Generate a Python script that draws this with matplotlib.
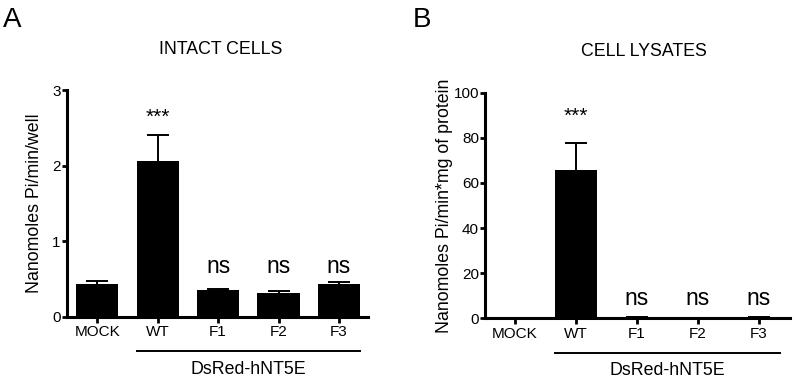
import matplotlib
matplotlib.use("Agg")
import matplotlib.pyplot as plt
import matplotlib.transforms as mtransforms

plt.rcParams["font.family"] = ["Liberation Sans", "DejaVu Sans"]

categories = ["MOCK", "WT", "F1", "F2", "F3"]
intact_mean = [0.43, 2.06, 0.35, 0.32, 0.43]
intact_sem = [0.05, 0.34, 0.02, 0.02, 0.03]
lysate_mean = [0.0, 65.7, 0.4, 0.2, 0.4]
lysate_sem = [0.0, 12.0, 0.1, 0.1, 0.1]
signif = ["", "***", "ns", "ns", "ns"]
group_label = "DsRed-hNT5E"

fig = plt.figure(figsize=(7.94, 3.8), dpi=100)
axA = fig.add_axes([0.0844, 0.166, 0.379, 0.597])
axB = fig.add_axes([0.611, 0.1624, 0.384, 0.594])


def draw_panel(ax, means, sems, ymax, yticks, ylabel, title, letter, letter_x,
               star_y, ns_y, xlim, title_dx, labelpad):
    x = list(range(len(categories)))
    ax.bar(x, means, width=0.7, color="black", zorder=2)
    # upper half error bars only, like prism does
    eb = ax.errorbar(x, means, yerr=[[0] * len(sems), sems], fmt="none",
                     ecolor="black", elinewidth=1.4, capsize=8, capthick=1.4, zorder=1)
    eb[1][0].set_visible(False)
    ax.set_xlim(*xlim)
    ax.set_ylim(0, ymax)
    ax.set_yticks(yticks)
    ax.set_xticks(x)
    ax.set_xticklabels(categories, fontsize=11)
    ax.tick_params(axis="y", labelsize=11, length=3.5, width=2, pad=1)
    ax.tick_params(axis="x", length=4, width=2, pad=2)
    for s in ["top", "right"]:
        ax.spines[s].set_visible(False)
    for s in ["left", "bottom"]:
        ax.spines[s].set_linewidth(2.2)
    ax.set_ylabel(ylabel, fontsize=12.8, labelpad=labelpad)

    for xi, lab in zip(x, signif):
        if lab == "***":
            ax.text(xi, star_y * ymax, lab, ha="center", va="baseline", fontsize=15)
        elif lab == "ns":
            ax.text(xi, ns_y * ymax, lab, ha="center", va="baseline", fontsize=16.5)

    trans = mtransforms.blended_transform_factory(ax.transData, ax.transAxes)
    ax.plot([1 - 0.35, 4 + 0.35], [-0.152, -0.152], color="black", lw=1.4,
            transform=trans, clip_on=False)
    ax.text(2.5, -0.252, group_label, ha="center", va="baseline", fontsize=12.8,
            transform=trans)
    ax.text(0.5 + title_dx, 1.16, title, ha="center", va="baseline", fontsize=12.8,
            transform=ax.transAxes)
    fig.text(letter_x, 0.93, letter, fontsize=20, ha="left", va="baseline")


draw_panel(axA, intact_mean, intact_sem, 3, [0, 1, 2, 3],
           "Nanomoles Pi/min/well", "INTACT CELLS", "A", 0.004,
           0.857, 0.193, (-0.5, 4.48), 0.012, 7)
draw_panel(axB, lysate_mean, lysate_sem, 100, [0, 20, 40, 60, 80, 100],
           "Nanomoles Pi/min*mg of protein", "CELL LYSATES", "B", 0.52,
           0.87, 0.059, (-0.49, 4.51), 0.02, 0.5)

fig.savefig("out.png", dpi=100)
